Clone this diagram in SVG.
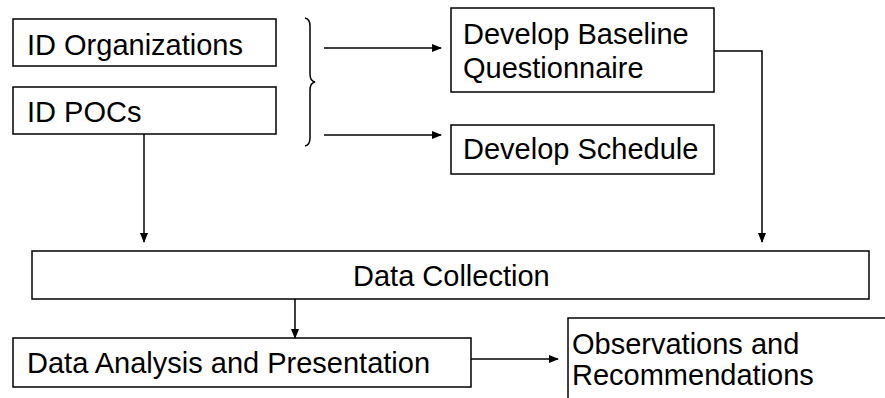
<svg xmlns="http://www.w3.org/2000/svg" width="885" height="398" viewBox="0 0 885 398">
<style>
.box{fill:#fff;stroke:#000;stroke-width:1.5}
.t{font-family:"Liberation Sans",Arial,sans-serif;font-size:29px;fill:#000}
.c{fill:none;stroke:#000;stroke-width:1.5}
</style>
<defs>
<marker id="ah" markerWidth="10" markerHeight="8" refX="9" refY="4" orient="auto" markerUnits="userSpaceOnUse">
<path d="M0,0 L10,4 L0,8 z" fill="#000"/>
</marker>
</defs>
<rect width="885" height="398" fill="#fff"/>
<g id="idorg"><rect class="box" x="13" y="19" width="263" height="47"/><text class="t" x="27" y="55">ID Organizations</text></g>
<g id="idpoc"><rect class="box" x="13" y="87" width="263" height="47"/><text class="t" x="27" y="122">ID POCs</text></g>
<g id="baseline"><rect class="box" x="451" y="8" width="263" height="84"/><text class="t" x="463" y="44">Develop Baseline</text><text class="t" x="463" y="78">Questionnaire</text></g>
<g id="schedule"><rect class="box" x="451" y="125" width="263" height="49"/><text class="t" x="463" y="159">Develop Schedule</text></g>
<g id="collection"><rect class="box" x="32" y="251" width="837" height="48"/><text class="t" x="353" y="286">Data Collection</text></g>
<g id="analysis"><rect class="box" x="13" y="338" width="458" height="49"/><text class="t" x="27" y="373">Data Analysis and Presentation</text></g>
<g id="observations"><path class="c" d="M568,400 L568,318 L887,318"/><text class="t" x="572" y="354">Observations and</text><text class="t" x="572" y="385">Recommendations</text></g>
<g id="connectors">
<path class="c" d="M305,18 Q310,19 310,26 L310,74 Q310,81 315,82 Q310,83 310,90 L310,138 Q310,145 305,146"/>
<path class="c" d="M324,48 L441,48" marker-end="url(#ah)"/>
<path class="c" d="M324,135 L441,135" marker-end="url(#ah)"/>
<path class="c" d="M714,51 L762,51 L762,242" marker-end="url(#ah)"/>
<path class="c" d="M144,134 L144,242" marker-end="url(#ah)"/>
<path class="c" d="M295,299 L295,338" marker-end="url(#ah)"/>
<path class="c" d="M471,359 L558,359" marker-end="url(#ah)"/>
</g>
</svg>
